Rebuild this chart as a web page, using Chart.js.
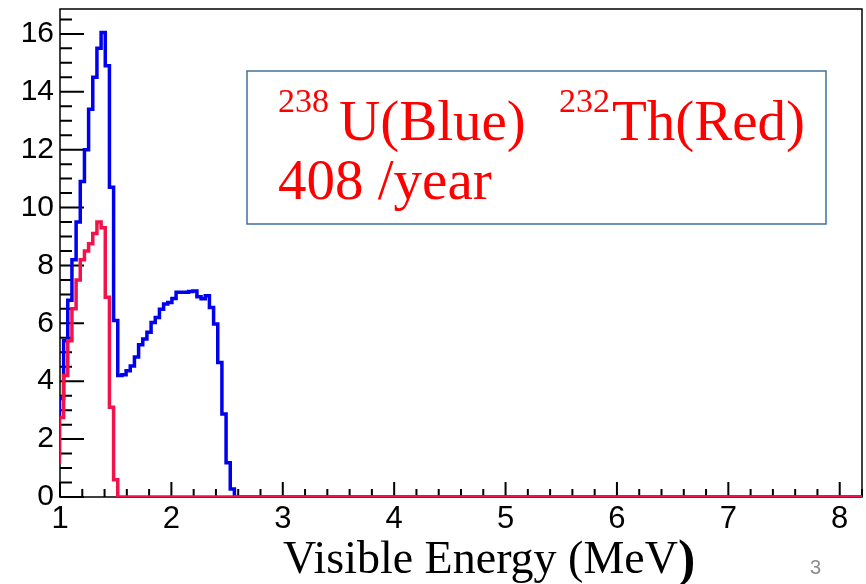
<!DOCTYPE html>
<html>
<head>
<meta charset="utf-8">
<script src="https://cdn.jsdelivr.net/npm/chart.js@4.4.1/dist/chart.umd.min.js"></script>
<style>
  html, body { margin: 0; padding: 0; background: #fff; }
  #wrap { position: relative; width: 866px; height: 584px; }
</style>
</head>
<body>
<div id="wrap"><canvas id="chart" width="866" height="584"></canvas></div>
<script>
// histogram binning (MeV)
const binStart = 0.995;
const binWidth = 0.0374;

// 238U (blue) counts per bin
const uCounts = [
  1.4, 3.4, 5.4, 6.8, 8.2, 9.5, 10.9, 12.0, 13.4, 14.5, 15.5, 16.05, 14.9, 10.7, 6.1,
  4.2, 4.22, 4.36, 4.53, 4.84, 5.26, 5.46, 5.69, 6.03, 6.2,
  6.49, 6.67, 6.72, 6.86, 7.07, 7.07, 7.07, 7.1, 7.12,
  6.92, 6.85, 6.95, 6.55, 5.98, 4.65, 2.87, 1.18, 0.28
];

// 232Th (red) counts per bin
const thCounts = [
  1.14, 2.75, 4.2, 5.4, 6.5, 7.5, 8.2, 8.5, 8.75, 9.1, 9.5, 9.3, 6.9, 3.1, 0.6
];

const xRange = [1, 8.2];
const yRange = [0, 16.86];
const xTicks = [1, 2, 3, 4, 5, 6, 7, 8];
const yTicks = [0, 2, 4, 6, 8, 10, 12, 14, 16];

const xTitle = "Visible Energy (MeV";
const legendIso1 = "238";
const legendName1 = "U(Blue)";
const legendIso2 = "232";
const legendName2 = "Th(Red)";
const legendRate = "408 /year";
const pageNumber = "3";

const BLUE = "#0000ee";
const RED = "#f2134a";

function histPoints(counts) {
  const pts = [{ x: binStart, y: 0 }];
  counts.forEach((c, i) => pts.push({ x: binStart + i * binWidth, y: c }));
  const end = binStart + counts.length * binWidth;
  pts.push({ x: end, y: 0 });
  pts.push({ x: xRange[1], y: 0 });
  return pts;
}

// frame + ROOT style ticks drawn inside the frame
const frameTicks = {
  id: "frameTicks",
  beforeDatasetsDraw(chart) {
    const { ctx, chartArea: a, scales: { x, y } } = chart;
    ctx.save();
    ctx.strokeStyle = "#000";
    ctx.lineWidth = 1.5;
    ctx.strokeRect(a.left, a.top, a.right - a.left, a.bottom - a.top);
    ctx.lineWidth = 2;
    ctx.beginPath();
    for (let i = 0; i * 0.5 <= yRange[1]; i++) {
      const py = y.getPixelForValue(i * 0.5);
      const len = i % 4 === 0 ? 24 : 12;
      ctx.moveTo(a.left, py);
      ctx.lineTo(a.left + len, py);
    }
    for (let i = 0; xRange[0] + i * 0.2 <= xRange[1] + 1e-9; i++) {
      const px = x.getPixelForValue(xRange[0] + i * 0.2);
      const len = i % 5 === 0 ? 15 : 8;
      ctx.moveTo(px, a.bottom);
      ctx.lineTo(px, a.bottom - len);
    }
    ctx.stroke();
    ctx.restore();
  }
};

// legend box, axis title and slide number
const annotations = {
  id: "annotations",
  afterDraw(chart) {
    const { ctx } = chart;
    ctx.save();
    ctx.strokeStyle = "#41719c";
    ctx.lineWidth = 1.5;
    ctx.strokeRect(247, 71, 579, 153);

    ctx.fillStyle = "#ff0000";
    ctx.textBaseline = "alphabetic";
    ctx.textAlign = "left";
    ctx.font = "34px 'Liberation Serif', 'Times New Roman', serif";
    ctx.fillText(legendIso1, 278, 112);
    ctx.fillText(legendIso2, 559, 112);
    ctx.font = "57px 'Liberation Serif', 'Times New Roman', serif";
    ctx.fillText(legendName1, 339, 140);
    ctx.fillText(legendName2, 612, 140);
    ctx.fillText(legendRate, 278, 199);

    ctx.fillStyle = "#000";
    ctx.font = "46px 'Liberation Serif', 'Times New Roman', serif";
    ctx.fillText(xTitle, 283, 573);
    const w = ctx.measureText(xTitle).width;
    ctx.font = "bold 52px 'Liberation Serif', 'Times New Roman', serif";
    ctx.fillText(")", 283 + w, 576);

    ctx.fillStyle = "#8c8c8c";
    ctx.font = "20px 'Liberation Sans', Arial, sans-serif";
    ctx.fillText(pageNumber, 810, 574);
    ctx.restore();
  }
};

new Chart(document.getElementById("chart"), {
  type: "line",
  data: {
    datasets: [
      {
        label: "232Th",
        data: histPoints(thCounts),
        borderColor: RED,
        borderWidth: 3.5,
        pointRadius: 0,
        stepped: "after",
        fill: false
      },
      {
        label: "238U",
        data: histPoints(uCounts),
        borderColor: BLUE,
        borderWidth: 3.5,
        pointRadius: 0,
        stepped: "after",
        fill: false
      }
    ]
  },
  options: {
    responsive: false,
    animation: false,
    devicePixelRatio: 1,
    layout: { padding: { top: 9, right: 4, left: 0, bottom: 0 } },
    plugins: {
      legend: { display: false },
      tooltip: { enabled: false }
    },
    scales: {
      x: {
        type: "linear",
        min: xRange[0],
        max: xRange[1],
        border: { display: false },
        grid: { display: false, drawTicks: false, tickLength: 0 },
        afterBuildTicks: (s) => { s.ticks = xTicks.map((v) => ({ value: v })); },
        afterFit: (s) => { s.height = 87; s.paddingLeft = 0; s.paddingRight = 0; },
        ticks: {
          autoSkip: false,
          maxRotation: 0,
          padding: 4,
          color: "#000",
          font: { family: "'Liberation Sans', Arial, sans-serif", size: 31 }
        }
      },
      y: {
        min: yRange[0],
        max: yRange[1],
        border: { display: false },
        grid: { display: false, drawTicks: false, tickLength: 0 },
        afterBuildTicks: (s) => { s.ticks = yTicks.map((v) => ({ value: v })); },
        afterFit: (s) => { s.width = 60; s.paddingTop = 0; s.paddingBottom = 0; },
        ticks: {
          autoSkip: false,
          padding: 6,
          color: "#000",
          font: { family: "'Liberation Sans', Arial, sans-serif", size: 30 }
        }
      }
    }
  },
  plugins: [frameTicks, annotations]
});
</script>
</body>
</html>
